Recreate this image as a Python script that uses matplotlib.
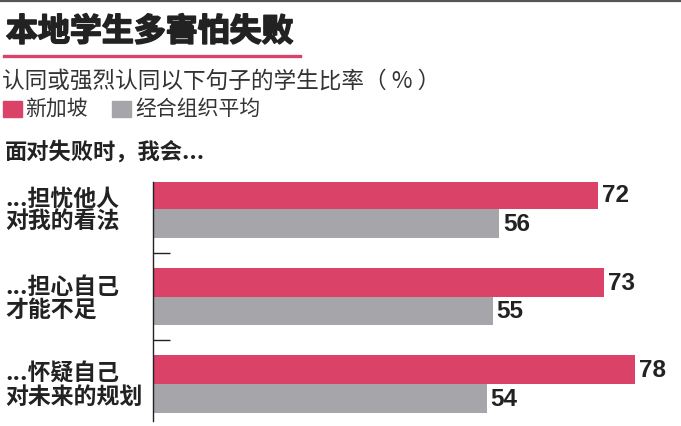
import matplotlib
matplotlib.use('Agg')
import matplotlib.pyplot as plt
import matplotlib.patheffects as pe
import numpy as np

plt.rcParams['font.family'] = ['Noto Sans CJK SC', 'DejaVu Sans']

# -------------------------------------------------------------------
# Data
# -------------------------------------------------------------------
categories = ['...担忧他人\n对我的看法', '...担心自己\n才能不足', '...怀疑自己\n对未来的规划']
singapore = [72, 73, 78]
oecd_avg = [56, 55, 54]
series_names = ['新加坡', '经合组织平均']

PINK = '#db4268'
GRAY = '#a6a6aa'
TEXT = '#222222'

W, H = 681, 427
fig = plt.figure(figsize=(W / 100, H / 100), dpi=100)

def px(x, y):
    """pixel coords (from top-left) -> figure fraction"""
    return x / W, 1 - y / H

# top rule
fig.add_artist(plt.Line2D([0, 1], [1 - 2 / H, 1 - 2 / H], color='#555555', lw=1.6))

# title + pink underline
fig.text(*px(6, 33), '本地学生多害怕失败', fontsize=23, fontweight='bold',
         color=TEXT, va='center', ha='left',
         path_effects=[pe.withStroke(linewidth=1.2, foreground=TEXT)])
fig.add_artist(plt.Line2D([4 / W, 300 / W], [1 - 57 / H, 1 - 57 / H], color=PINK, lw=2.4))

# subtitle
fig.text(*px(2, 81), '认同或强烈认同以下句子的学生比率（ % ）', fontsize=16.3,
         color='#333333', va='center', ha='left')

# legend
fig.add_artist(plt.Rectangle(px(3, 118), 19 / W, 16 / H, color=PINK, transform=fig.transFigure))
fig.text(*px(25, 109), series_names[0], fontsize=15, color='#333333', va='center', ha='left')
fig.add_artist(plt.Rectangle(px(112, 118), 19 / W, 16 / H, color=GRAY, transform=fig.transFigure))
fig.text(*px(135, 109), series_names[1], fontsize=15, color='#333333', va='center', ha='left')

fig.text(*px(5, 152), '面对失败时，我会...', fontsize=16, fontweight='bold',
         color=TEXT, va='center', ha='left')

# -------------------------------------------------------------------
# Bars
# -------------------------------------------------------------------
ax_left, ax_top, ax_bottom = 153, 183, 422
x_max = 85
scale = 6.18  # px per unit
ax = fig.add_axes([ax_left / W, 1 - ax_bottom / H, x_max * scale / W, (ax_bottom - ax_top) / H])

y = np.arange(len(categories))
bh = 0.33
ax.barh(y - bh / 2, singapore, height=bh, color=PINK, linewidth=0)
ax.barh(y + bh / 2, oecd_avg, height=bh, color=GRAY, linewidth=0)

for i in range(len(categories)):
    ax.text(singapore[i] + 0.6, y[i] - bh / 2, str(singapore[i]), fontsize=17.5, fontweight='bold',
            family=['Liberation Sans', 'DejaVu Sans'], color=TEXT, va='center', ha='left')
    ax.text(oecd_avg[i] + 0.6, y[i] + bh / 2, str(oecd_avg[i]), fontsize=17.5, fontweight='bold',
            family=['Liberation Sans', 'DejaVu Sans'], color=TEXT, va='center', ha='left')

unit = 87.5
ax.set_ylim((ax_bottom - 210) / unit, -(210 - ax_top) / unit)
ax.set_xlim(0, x_max)

for s in ['top', 'right', 'bottom']:
    ax.spines[s].set_visible(False)
ax.spines['left'].set_color('#222222')
ax.spines['left'].set_linewidth(1.0)

ax.set_xticks([])
ax.set_yticks([0.5, 1.5])
ax.set_yticklabels([])
ax.tick_params(axis='y', direction='in', length=12, width=1.0, color='#222222')

for i, cat in enumerate(categories):
    fig.text(*px(5, 210 + i * unit + 1), cat, fontsize=16.5, fontweight='bold', color=TEXT,
             va='center', ha='left', linespacing=1.0)

fig.savefig('out.png', dpi=100)
